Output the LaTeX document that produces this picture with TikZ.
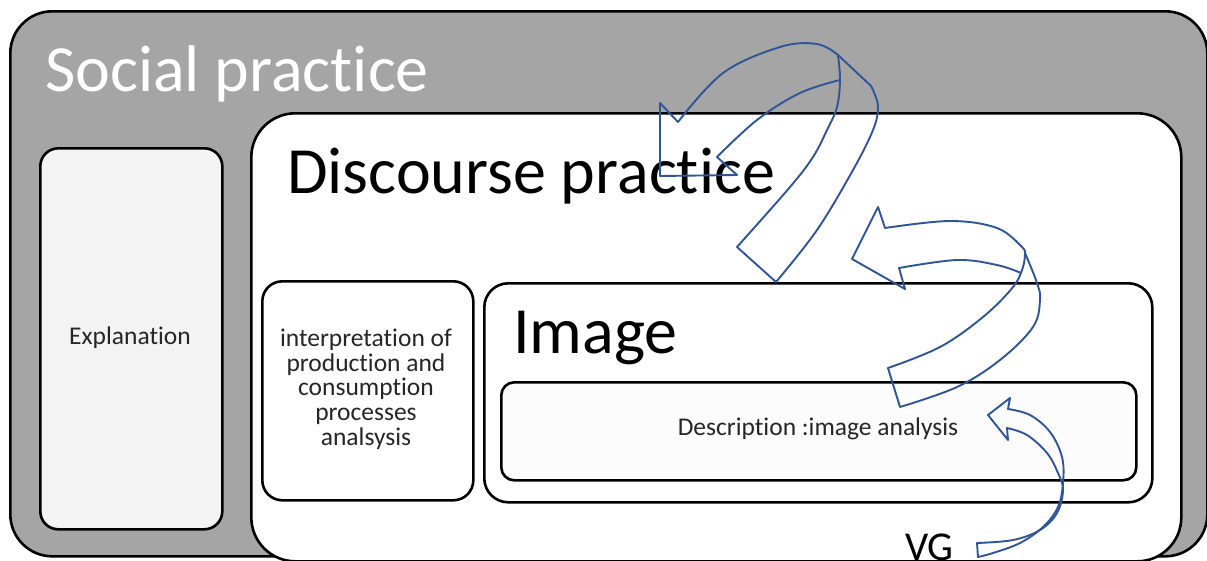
\documentclass[tikz,border=0pt]{standalone}
\usepackage{fontspec}
\setmainfont{Carlito}[RawFeature={-liga,-clig}]
\definecolor{socialgray}{RGB}{165,165,165}
\definecolor{explfill}{RGB}{243,243,243}
\definecolor{arrowblue}{RGB}{47,85,151}
\definecolor{smalltext}{RGB}{38,38,38}
\tikzset{
  box/.style={draw=black, line width=2.6pt, inner sep=0pt, anchor=north west},
  bigtext/.style={inner sep=0pt, anchor=base west, font=\fontsize{66}{70}\selectfont},
  smalltxt/.style={inner sep=0pt, text=smalltext, font=\fontsize{25.5}{24.7}\selectfont},
  curvearrow/.style={draw=arrowblue, line width=1.9pt, line join=round, line cap=round},
}
\begin{document}
\begin{tikzpicture}[x=1pt,y=-1pt]
\useasboundingbox (0,0) rectangle (1207,560);
\fill[white] (0,0) rectangle (1207,560);
% boxes
\node[box, fill=socialgray, rounded corners=42pt, minimum width=1197pt, minimum height=545pt] (social) at (9,10) {};
\node[box, fill=explfill, rounded corners=18pt, minimum width=182pt, minimum height=381pt] (expl) at (39,147) {};
\node[box, fill=white, rounded corners=44pt, minimum width=930pt, minimum height=448pt] (discourse) at (250,112) {};
\node[box, fill=white, rounded corners=20pt, minimum width=211pt, minimum height=219pt] (interp) at (261,280) {};
\node[box, fill=white, rounded corners=24pt, minimum width=668pt, minimum height=219pt] (image) at (483,282) {};
\node[box, fill=white!99!black, rounded corners=13pt, minimum width=635pt, minimum height=98pt] (desc) at (500,381) {};
% texts
\node[bigtext, text=white] (socialtxt) at (45,91) {Social practice};
\node[bigtext] (discoursetxt) at (287,193) {Discourse practice};
\node[bigtext] (imagetxt) at (513,353) {Image};
\node[smalltxt, anchor=base] (expltxt) at (130,344) {Explanation};
\node[smalltxt, align=center, anchor=center] (interptxt) at (366,389) {interpretation of\\production and\\consumption\\processes\\analsysis};
\node[smalltxt, anchor=base] (desctxt) at (818,435) {Description :image analysis};
\node[inner sep=0pt, anchor=base west, font=\fontsize{41}{45}\selectfont] (vg) at (905,560) {VG};
% arrow 1 (top)
\draw[curvearrow] plot[smooth, tension=0.6] coordinates {(838,55) (817,44) (780,47) (723,73) (678,122)}
  -- (660,103) -- (660,176) -- (737,175) -- (717,157);
\draw[curvearrow] plot[smooth, tension=0.6] coordinates {(717,157) (757,120) (800,93) (840,80)};
\draw[curvearrow] plot[smooth, tension=0.6] coordinates {(737,247) (790,187) (813,157) (827,130) (837,107) (840,80) (838,55)};
\draw[curvearrow] (737,247) -- (776,282);
\draw[curvearrow] plot[smooth, tension=0.6] coordinates {(776,282) (817,230) (853,170) (873,130) (878,107) (873,90) (870,85)} -- (838,55);
% arrow 2 (middle)
\draw[curvearrow] plot[smooth, tension=0.6] coordinates {(1025,253) (1022,247) (997,228) (950,221) (885,228)}
  -- (878,207) -- (852,259) -- (905,289) -- (899,268);
\draw[curvearrow] plot[smooth, tension=0.6] coordinates {(899,268) (957,260) (997,265) (1021,273)};
\draw[curvearrow] plot[smooth, tension=0.6] coordinates {(1025,253) (1037,283) (1040,300) (1033,327) (1000,360) (957,387) (900,407)} -- (888,368);
\draw[curvearrow] plot[smooth, tension=0.6] coordinates {(888,368) (940,347) (983,317) (1013,287) (1023,267) (1025,253)};
% arrow 3 (bottom, from VG)
\draw[curvearrow] plot[smooth, tension=0.6] coordinates {(1008,409) (1030,415) (1050,432) (1062,457) (1063,483) (1058,507) (1043,527) (1020,543) (993,553) (978,557)}
  -- (977,543);
\draw[curvearrow] plot[smooth, tension=0.6] coordinates {(977,543) (1013,540) (1040,530) (1057,513) (1063,490) (1058,473) (1047,453) (1027,435) (1007,428)}
  -- (1008,440) -- (988,415) -- (1010,398) -- (1008,409);
\end{tikzpicture}
\end{document}
